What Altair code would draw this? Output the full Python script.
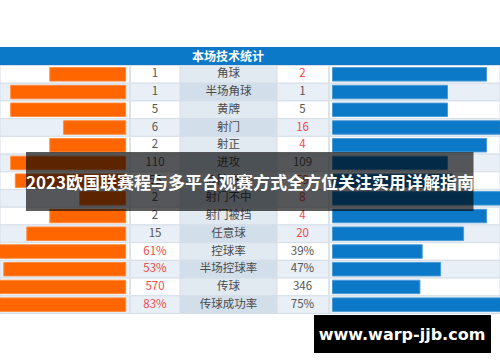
import altair as alt
import pandas as pd

header_title = "本场技术统计"
banner_title = "2023欧国联赛程与多平台观赛方式全方位关注实用详解指南"
watermark = "www.warp-jjb.com"

labels = ["角球", "半场角球", "黄牌", "射门", "射正", "进攻", "危险进攻",
          "射门不中", "射门被挡", "任意球", "控球率", "半场控球率", "传球", "传球成功率"]
left_text = ["1", "1", "5", "6", "2", "110", "55", "2", "2", "15", "61%", "53%", "570", "83%"]
right_text = ["2", "1", "5", "16", "4", "109", "59", "8", "4", "20", "39%", "47%", "346", "75%"]
# share of the row drawn by each bar (percent)
left_bar = [33, 50, 50, 27, 33, 50, 48, 20, 33, 43, 61, 53, 62, 56]
right_bar = [67, 50, 50, 73, 67, 50, 52, 80, 67, 57, 39, 47, 38, 75]
left_hot = [0, 0, 0, 0, 0, 0, 0, 0, 0, 0, 1, 1, 1, 1]
right_hot = [1, 0, 0, 1, 1, 0, 1, 1, 1, 1, 0, 0, 0, 0]

FONT = "Noto Sans CJK SC"
ORANGE = "#ff6600"
BLUE = "#0b78c8"

df = pd.DataFrame({
    "label": labels, "lt": left_text, "rt": right_text,
    "lb": left_bar, "rb": right_bar, "lh": left_hot, "rh": right_hot,
})
df["i"] = range(len(df))

xs = alt.Scale(domain=[0, 500], nice=False, zero=False)
ys = alt.Scale(domain=labels, range=[65.5, 313.5], paddingInner=0, paddingOuter=0)
Y = alt.Y("label:N", scale=ys, axis=None, sort=labels)

base = alt.Chart(df).transform_calculate(
    rowbg="datum.i % 2 == 0 ? '#ffffff' : '#e9eff6'",
    labbg="datum.i % 2 == 0 ? '#e1e9f1' : '#d2dfeb'",
    lcol="datum.lh == 1 ? '#f24b4b' : '#555555'",
    rcol="datum.rh == 1 ? '#f24b4b' : '#555555'",
    lx0="125.7 - 2.3 * datum.lb",
    lx1="125.7",
    rx0="332.5",
    rx1="332.5 + 2.3 * datum.rb",
)

header = alt.Chart(pd.DataFrame({"t": [header_title]}))
header_rect = header.mark_rect(color=BLUE).encode(
    x=alt.value(0), x2=alt.value(500), y=alt.value(47), y2=alt.value(65.5))
header_txt = header.mark_text(font=FONT, fontSize=12, fontWeight="bold", color="white").encode(
    x=alt.value(228), y=alt.value(56.5), text="t:N")

row_bg = base.mark_rect(stroke="#d5dee8", strokeWidth=1).encode(
    y=Y, x=alt.value(0), x2=alt.value(500), color=alt.Color("rowbg:N", scale=None))
lab_bg = base.mark_rect(stroke="#d5dee8", strokeWidth=1).encode(
    y=Y, x=alt.value(180), x2=alt.value(277), color=alt.Color("labbg:N", scale=None))

seps = alt.Chart(pd.DataFrame({"sx": [130, 329]})).mark_rule(color="#dbe3ec", strokeWidth=2).encode(
    x=alt.X("sx:Q", scale=xs, axis=None), y=alt.value(65.5), y2=alt.value(313.5))

lbars = base.mark_bar(height=13.5, color=ORANGE, stroke="#ff8a3d", strokeWidth=1).encode(
    y=Y, x=alt.X("lx0:Q", scale=xs, axis=None), x2="lx1:Q")
rbars = base.mark_bar(height=13.5, color=BLUE, stroke="#4a9ad6", strokeWidth=1).encode(
    y=Y, x=alt.X("rx0:Q", scale=xs, axis=None), x2="rx1:Q")

ltxt = base.mark_text(font=FONT, fontSize=11.5).encode(
    y=Y, x=alt.value(155), text="lt:N", color=alt.Color("lcol:N", scale=None))
rtxt = base.mark_text(font=FONT, fontSize=11.5).encode(
    y=Y, x=alt.value(302.5), text="rt:N", color=alt.Color("rcol:N", scale=None))
labtxt = base.mark_text(font=FONT, fontSize=11.5, color="#4a4a4a").encode(
    y=Y, x=alt.value(228.5), text="label:N")

banner = alt.Chart(pd.DataFrame({"t": [banner_title]}))
banner_rect = banner.mark_rect(color="black", opacity=0.64).encode(
    x=alt.value(26), x2=alt.value(473.5), y=alt.value(152), y2=alt.value(211))
banner_txt = banner.mark_text(font=FONT, fontSize=17, fontWeight="bold", color="white").encode(
    x=alt.value(250), y=alt.value(184), text="t:N")

wm = alt.Chart(pd.DataFrame({"t": [watermark]}))
wm_rect = wm.mark_rect(color="black").encode(
    x=alt.value(314), x2=alt.value(491), y=alt.value(315), y2=alt.value(353))
wm_txt = wm.mark_text(font="DejaVu Sans", fontSize=16, fontWeight="bold", color="white").encode(
    x=alt.value(402), y=alt.value(335), text="t:N")

chart = alt.layer(
    header_rect, header_txt, row_bg, lab_bg, seps, lbars, rbars, ltxt, rtxt, labtxt,
    banner_rect, banner_txt, wm_rect, wm_txt,
).properties(
    width=500, height=362, padding=0, autosize=alt.AutoSizeParams(type="none"),
    background="white",
).configure_view(stroke=None)

chart.save("out.html", embed_options={"renderer": "svg", "actions": False})
